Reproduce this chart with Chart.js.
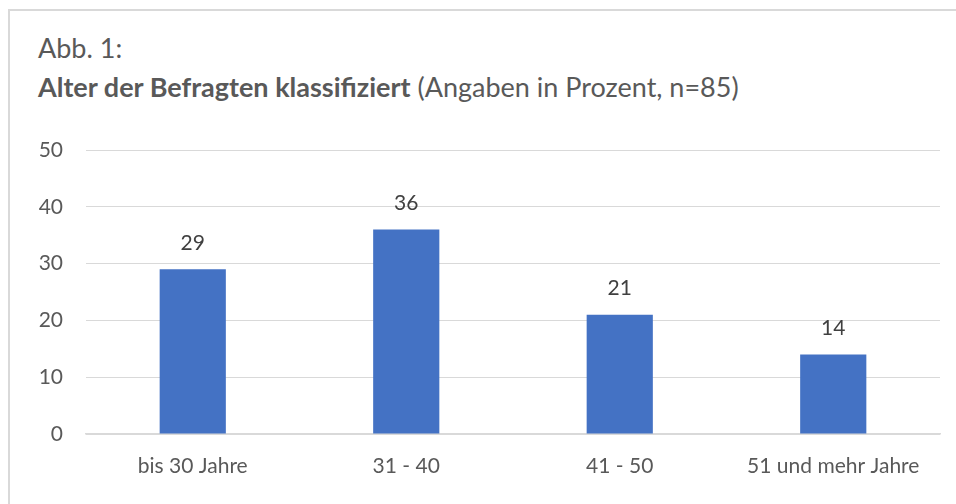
<!DOCTYPE html>
<html>
<head>
<meta charset="utf-8">
<script src="https://cdn.jsdelivr.net/npm/chart.js@4"></script>
<style>
  html, body { margin: 0; padding: 0; background: #fff; }
  body { width: 956px; height: 504px; position: relative; overflow: hidden; font-family: Lato, "Open Sans", sans-serif; }
  #frame { position: absolute; left: 8px; top: 9px; width: 960px; height: 520px; border: 2px solid #d9d9d9; box-sizing: border-box; }
  #t1, #t2 { position: absolute; left: 38px; font-size: 27px; line-height: 27px; color: #595959; white-space: nowrap; }
  #t1 { top: 34px; }
  #t2 { top: 73px; }
  #t2 b { font-weight: bold; }
  #c { position: absolute; left: 0; top: 0; }
</style>
</head>
<body>
<div id="frame"></div>
<div id="t1">Abb. 1:</div>
<div id="t2"><b>Alter der Befragten klassifiziert</b> (Angaben in Prozent, n=85)</div>
<canvas id="c" width="956" height="504"></canvas>
<script>
const categories = ["bis 30 Jahre", "31 - 40", "41 - 50", "51 und mehr Jahre"];
const values = [29, 36, 21, 14];
const yTicks = [0, 10, 20, 30, 40, 50];

const FONT = 'Lato, "Open Sans", sans-serif';

const valueLabels = {
  id: 'valueLabels',
  afterDatasetsDraw(chart) {
    const ctx = chart.ctx;
    const meta = chart.getDatasetMeta(0);
    ctx.save();
    ctx.font = '21px ' + FONT;
    ctx.fillStyle = '#404040';
    ctx.textAlign = 'center';
    ctx.textBaseline = 'middle';
    meta.data.forEach((bar, i) => {
      ctx.fillText(String(values[i]), bar.x, bar.y - 26);
    });
    ctx.restore();
  }
};

new Chart(document.getElementById('c'), {
  type: 'bar',
  data: {
    labels: categories,
    datasets: [{
      data: values,
      backgroundColor: '#4472c4',
      borderWidth: 0,
      categoryPercentage: 1,
      barPercentage: 0.31
    }]
  },
  options: {
    responsive: false,
    animation: false,
    devicePixelRatio: 1,
    layout: { padding: { top: 150, right: 16, left: 0, bottom: 0 } },
    plugins: { legend: { display: false }, tooltip: { enabled: false }, title: { display: false } },
    scales: {
      x: {
        grid: { display: false, drawTicks: false },
        border: { display: true, color: '#d9d9d9', width: 1.5 },
        ticks: { color: '#595959', font: { family: FONT, size: 21 }, padding: 20 },
        afterFit(scale) { scale.height = 70; }
      },
      y: {
        min: 0, max: 50,
        afterBuildTicks(scale) { scale.ticks = yTicks.map(v => ({ value: v })); },
        grid: { color: '#d9d9d9', lineWidth: 1, drawTicks: false },
        border: { display: false },
        ticks: { color: '#595959', font: { family: FONT, size: 21 }, padding: 23 },
        afterFit(scale) { scale.width = 86; }
      }
    }
  },
  plugins: [valueLabels]
});
</script>
</body>
</html>
